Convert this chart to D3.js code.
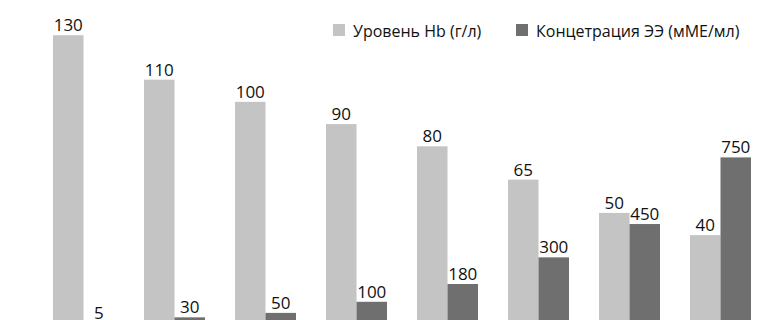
<!DOCTYPE html>
<html><head><meta charset="utf-8">
<script src="https://cdn.jsdelivr.net/npm/d3@7"></script>
<style>body{margin:0;background:#fff}svg{display:block}</style>
</head><body>
<script>
const categories = ["1","2","3","4","5","6","7","8"];
const hbValues = [130,110,100,90,80,65,50,40];
const eeValues = [5,30,50,100,180,300,450,750];
const seriesNames = ["Уровень Hb (г/л)", "Концетрация ЭЭ (мМЕ/мл)"];
const colors = ["#c4c4c4", "#6f6f6f"];

const W = 778, H = 320;
const svg = d3.select("body").append("svg").attr("width", W).attr("height", H);
const font = "'Open Sans', 'Noto Sans', sans-serif";

const x = d3.scaleBand().domain(categories).range([38, 766]).paddingInner(30/91).paddingOuter(15/91);
const xs = d3.scaleBand().domain([0,1]).range([0, x.bandwidth()]);
const yHb = d3.scaleLinear().domain([0,140]).range([324, 13]);
const yEe = d3.scaleLinear().domain([0,1400]).range([324, 13]);

const g = svg.append("g");
categories.forEach((c, i) => {
  const gx = x(c);
  const series = [{v: hbValues[i], y: yHb}, {v: eeValues[i], y: yEe}];
  series.forEach((s, k) => {
    const bx = gx + xs(k);
    g.append("rect").attr("x", bx).attr("y", s.y(s.v))
      .attr("width", xs.bandwidth()).attr("height", s.y(0) - s.y(s.v))
      .attr("fill", colors[k]);
    g.append("text").attr("x", bx + xs.bandwidth()/2).attr("y", s.y(s.v) - 4)
      .attr("text-anchor", "middle").attr("font-family", font).attr("font-size", 17)
      .attr("fill", "#111").text(s.v);
  });
});

// legend
const legendItems = [{x: 333, name: seriesNames[0], c: colors[0]}, {x: 516, name: seriesNames[1], c: colors[1]}];
legendItems.forEach(l => {
  svg.append("rect").attr("x", l.x).attr("y", 24).attr("width", 12).attr("height", 12).attr("fill", l.c);
  svg.append("text").attr("x", l.x + 20).attr("y", 37).attr("font-family", font).attr("font-size", 16)
    .attr("fill", "#111").text(l.name);
});
</script>
</body></html>
